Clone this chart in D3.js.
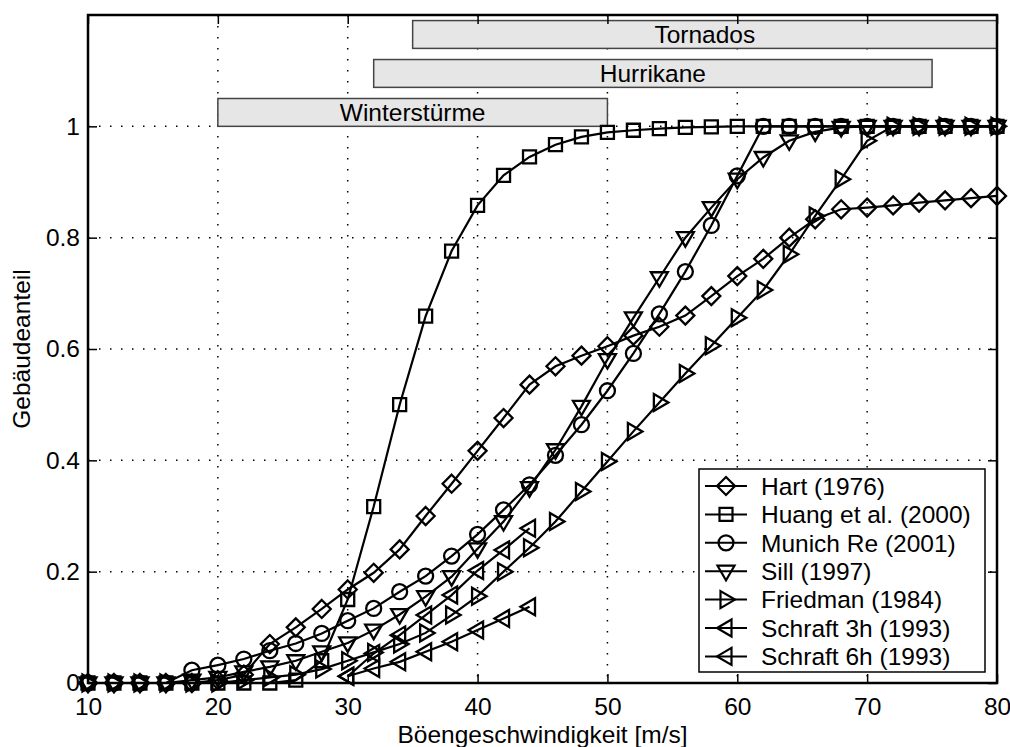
<!DOCTYPE html>
<html>
<head>
<meta charset="utf-8">
<script src="https://cdn.jsdelivr.net/npm/d3@7"></script>
<style>
  body { margin: 0; background: #fff; }
  svg text { font-family: "Liberation Sans", Arial, Helvetica, sans-serif; fill: #000; }
  .grid line { stroke: #000; stroke-width: 1.5; stroke-dasharray: 1.5,9.5; }
  .axis path { display: none; }
  .axis line { stroke: #000; stroke-width: 1.5; }
  .axis text { font-size: 24.5px; }
</style>
</head>
<body>
<div id="chart"></div>
<script>
// wind speed in m/s (shared by the five full curves)
var windSpeed = [10,12,14,16,18,20,22,24,26,28,30,32,34,36,38,40,42,44,46,48,50,52,54,56,58,60,62,64,66,68,70,72,74,76,78,80]
var schraftSpeed = [30,32,34,36,38,40,42,44]

var hart = [0,0,0,0,0,0.005,0.015,0.07,0.10,0.133,0.168,0.198,0.24,0.30,0.358,0.417,0.476,0.536,0.569,0.588,0.605,0.624,0.64,0.66,0.695,0.731,0.762,0.80,0.833,0.851,0.854,0.858,0.863,0.867,0.871,0.875]
var huang = [0,0,0,0,0,0,0,0,0.005,0.04,0.15,0.317,0.50,0.659,0.776,0.858,0.912,0.945,0.967,0.981,0.989,0.993,0.996,0.998,0.999,1,1,1,1,1,1,1,1,1,1,1]
var munichRe = [0,0,0,0,0.023,0.032,0.043,0.058,0.071,0.089,0.112,0.134,0.164,0.192,0.228,0.267,0.311,0.356,0.409,0.464,0.525,0.592,0.663,0.739,0.822,0.911,1,1,1,1,1,1,1,1,1,1]
var sill = [0,0,0,0,0.005,0.01,0.02,0.029,0.04,0.056,0.072,0.095,0.123,0.155,0.191,0.241,0.29,0.351,0.419,0.497,0.581,0.656,0.728,0.80,0.854,0.905,0.944,0.974,0.99,0.998,1,1,1,1,1,1]
var friedman = [0,0,0,0,0,0,0.005,0.01,0.015,0.025,0.04,0.055,0.07,0.09,0.122,0.156,0.2,0.243,0.29,0.344,0.398,0.452,0.504,0.556,0.606,0.656,0.706,0.77,0.839,0.905,0.974,1,1,1,1,1]
var schraft3h = [0.012,0.053,0.086,0.122,0.158,0.202,0.239,0.278]
var schraft6h = [0.012,0.026,0.038,0.056,0.074,0.095,0.116,0.137]

var seriesNames = ['Hart (1976)','Huang et al. (2000)','Munich Re (2001)','Sill (1997)','Friedman (1984)','Schraft 3h (1993)','Schraft 6h (1993)']
var seriesMarkers = ['diamond','square','circle','triDown','triRight','triLeft','triLeft']

var stormNames = ['Winterstürme','Hurrikane','Tornados']
var stormFrom = [20,32,35]
var stormTo = [50,75,80]
var stormLow = [1.0,1.07,1.14]
var stormHigh = [1.05,1.12,1.19]

var xTicks = [10,20,30,40,50,60,70,80]
var yTicks = [0,0.2,0.4,0.6,0.8,1]

var series = [
  {name: seriesNames[0], marker: seriesMarkers[0], xs: windSpeed, ys: hart},
  {name: seriesNames[1], marker: seriesMarkers[1], xs: windSpeed, ys: huang},
  {name: seriesNames[2], marker: seriesMarkers[2], xs: windSpeed, ys: munichRe},
  {name: seriesNames[3], marker: seriesMarkers[3], xs: windSpeed, ys: sill},
  {name: seriesNames[4], marker: seriesMarkers[4], xs: windSpeed, ys: friedman},
  {name: seriesNames[5], marker: seriesMarkers[5], xs: schraftSpeed, ys: schraft3h},
  {name: seriesNames[6], marker: seriesMarkers[6], xs: schraftSpeed, ys: schraft6h}
]

var width = 1010, height = 747
var margin = {left: 88, right: 13, top: 15, bottom: 64}
var w = width - margin.left - margin.right
var h = height - margin.top - margin.bottom
var fontSize = '24.5px'

var svg = d3.select('#chart').append('svg')
  .attr('width', width).attr('height', height)
var g = svg.append('g').attr('transform', 'translate(' + margin.left + ',' + margin.top + ')')

var x = d3.scaleLinear().domain([10, 80]).range([0, w])
var y = d3.scaleLinear().domain([0, 1.2]).range([h, 0])

// dotted grid
var grid = g.append('g').attr('class', 'grid')
grid.selectAll('line.vx').data(xTicks.slice(1, -1)).enter().append('line')
  .attr('x1', d => x(d)).attr('x2', d => x(d)).attr('y1', 0).attr('y2', h)
grid.selectAll('line.hy').data(yTicks.slice(1)).enter().append('line')
  .attr('x1', 0).attr('x2', w).attr('y1', d => y(d)).attr('y2', d => y(d))

// storm type bars
var bars = g.append('g')
stormNames.forEach(function(name, i){
  bars.append('rect')
    .attr('x', x(stormFrom[i])).attr('y', y(stormHigh[i]))
    .attr('width', x(stormTo[i]) - x(stormFrom[i]))
    .attr('height', y(stormLow[i]) - y(stormHigh[i]))
    .attr('fill', '#e6e6e6').attr('stroke', '#444').attr('stroke-width', 1.5)
  bars.append('text')
    .attr('x', (x(stormFrom[i]) + x(stormTo[i])) / 2)
    .attr('y', (y(stormLow[i]) + y(stormHigh[i])) / 2)
    .attr('dy', '0.36em').attr('text-anchor', 'middle')
    .style('font-size', fontSize)
    .text(name)
})

// marker shapes (MATLAB style)
function markerPath(type){
  switch (type){
    case 'diamond': return 'M0,-9L9,0L0,9L-9,0Z'
    case 'square': return 'M-6.5,-6.5H6.5V6.5H-6.5Z'
    case 'circle': return 'M7.5,0A7.5,7.5 0 1,1 -7.5,0A7.5,7.5 0 1,1 7.5,0Z'
    case 'triDown': return 'M-8.5,-5.5L8.5,-5.5L0,9Z'
    case 'triRight': return 'M-5.5,-8.5L-5.5,8.5L9,0Z'
    case 'triLeft': return 'M5.5,-8.5L5.5,8.5L-9,0Z'
  }
}

var line = d3.line().x(d => x(d[0])).y(d => y(d[1]))

series.forEach(function(s){
  var pts = s.xs.map(function(v, i){ return [v, s.ys[i]] })
  var sg = g.append('g')
  sg.append('path').attr('d', line(pts))
    .attr('fill', 'none').attr('stroke', '#000').attr('stroke-width', 2.2)
  sg.selectAll('path.m').data(pts).enter().append('path')
    .attr('class', 'm')
    .attr('transform', d => 'translate(' + x(d[0]) + ',' + y(d[1]) + ')')
    .attr('d', markerPath(s.marker))
    .attr('fill', 'none').attr('stroke', '#000').attr('stroke-width', 2.3)
})

// axes, ticks pointing inward on all four sides
g.append('g').attr('class', 'axis').attr('transform', 'translate(0,' + h + ')')
  .call(d3.axisBottom(x).tickValues(xTicks).tickSize(-9).tickPadding(15).tickFormat(d3.format('d')))
g.append('g').attr('class', 'axis')
  .call(d3.axisTop(x).tickValues(xTicks).tickSize(-9).tickFormat(''))
g.append('g').attr('class', 'axis')
  .call(d3.axisLeft(y).tickValues(yTicks).tickSize(-9).tickPadding(8).tickFormat(d => d === 0 || d === 1 ? d3.format('d')(d) : d3.format('.1f')(d)))
g.append('g').attr('class', 'axis').attr('transform', 'translate(' + w + ',0)')
  .call(d3.axisRight(y).tickValues(yTicks).tickSize(-9).tickFormat(''))

g.append('rect').attr('width', w).attr('height', h)
  .attr('fill', 'none').attr('stroke', '#000').attr('stroke-width', 2.5)

// axis titles
svg.append('text')
  .attr('x', margin.left + w / 2).attr('y', 743)
  .attr('text-anchor', 'middle').style('font-size', fontSize)
  .text('Böengeschwindigkeit [m/s]')
svg.append('text')
  .attr('transform', 'translate(30,' + (margin.top + h / 2) + ') rotate(-90)')
  .attr('text-anchor', 'middle').style('font-size', fontSize)
  .text('Gebäudeanteil')

// legend
var leg = svg.append('g').attr('transform', 'translate(699,469)')
leg.append('rect').attr('width', 286).attr('height', 203)
  .attr('fill', '#fff').attr('stroke', '#000').attr('stroke-width', 1.5)
series.forEach(function(s, i){
  var ly = 17 + i * 28.4
  leg.append('line').attr('x1', 6).attr('x2', 48).attr('y1', ly).attr('y2', ly)
    .attr('stroke', '#000').attr('stroke-width', 2)
  leg.append('path').attr('transform', 'translate(27,' + ly + ')')
    .attr('d', markerPath(s.marker))
    .attr('fill', 'none').attr('stroke', '#000').attr('stroke-width', 2.2)
  leg.append('text').attr('x', 62).attr('y', ly).attr('dy', '0.36em')
    .style('font-size', fontSize).text(s.name)
})
</script>
</body>
</html>
